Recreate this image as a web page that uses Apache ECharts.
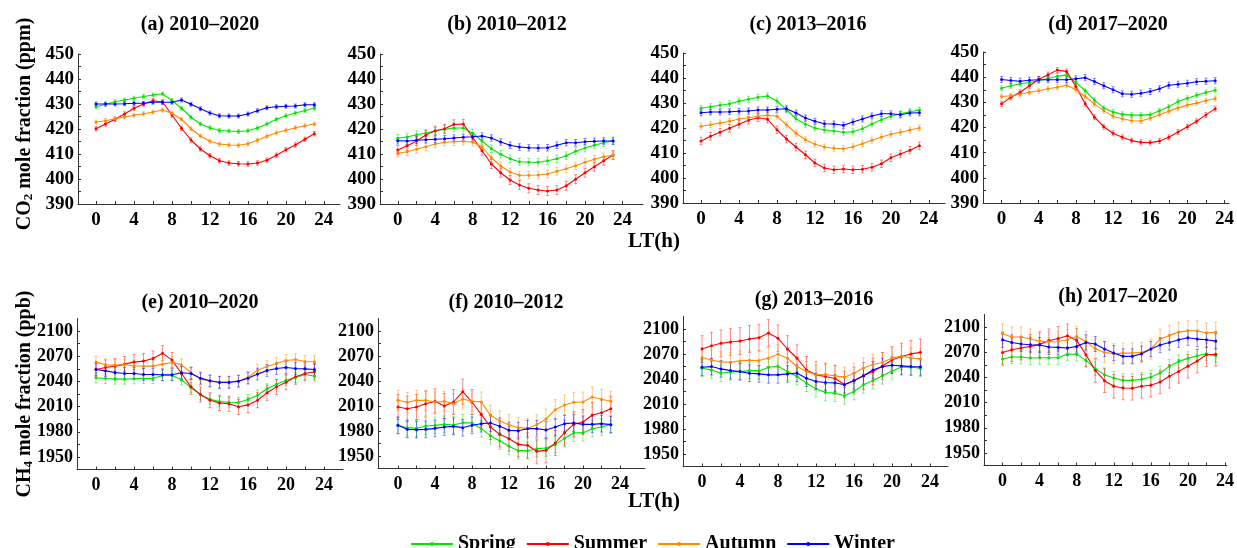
<!DOCTYPE html>
<html><head><meta charset="utf-8">
<script src="https://cdn.jsdelivr.net/npm/echarts@6/dist/echarts.min.js"></script>
<style>html,body{margin:0;padding:0;background:#fff}#c{width:1237px;height:548px}</style>
</head><body><div id="c"></div>
<script>
const hours = [0,1,2,3,4,5,6,7,8,9,10,11,12,13,14,15,16,17,18,19,20,21,22,23];
const seasons = ['Spring','Summer','Autumn','Winter'];
const seasonColors = ['#00e400','#ff0000','#ff8a00','#0000ff'];
const panelTitles = ['(a) 2010–2020','(b) 2010–2012','(c) 2013–2016','(d) 2017–2020',
                     '(e) 2010–2020','(f) 2010–2012','(g) 2013–2016','(h) 2017–2020'];
const co2TickLabels = [390,400,410,420,430,440,450];
const co2Ticks = [390,395,400,405,410,415,420,425,430,435,440,445,450];
const ch4TickLabels = [1950,1980,2010,2040,2070,2100];
const ch4Ticks = [1950,1965,1980,1995,2010,2025,2040,2055,2070,2085,2100];
const hourTickLabels = [0,4,8,12,16,20,24];
const hourTicks = [0,2,4,6,8,10,12,14,16,18,20,22,24];

// CO2 (ppm)
const a_spring = [428.9,429.9,430.9,431.6,432.3,433.0,433.6,434.1,431.4,428.3,424.7,422.0,420.5,419.4,419.2,419.0,419.3,420.4,422.0,423.9,425.3,426.4,427.4,428.3];
const a_summer = [420.1,422.0,423.9,426.0,428.3,430.0,431.3,430.8,425.6,420.3,415.6,412.0,409.3,407.3,406.4,406.1,406.0,406.4,407.5,409.5,411.7,413.6,415.9,418.1];
const a_autumn = [422.8,423.3,424.1,424.8,425.5,426.1,426.8,427.6,426.3,423.9,420.1,417.2,415.1,414.0,413.6,413.5,414.1,415.5,417.1,418.5,419.5,420.5,421.3,422.0];
const a_winter = [430.0,430.0,430.0,430.1,430.3,430.3,430.7,430.7,430.7,431.6,429.9,428.1,426.4,425.3,425.2,425.2,426.0,427.3,428.5,428.9,429.1,429.2,429.7,429.7];

const b_spring = [416.3,416.8,417.7,418.4,419.2,419.9,420.4,420.4,418.3,415.2,412.1,409.9,408.1,406.9,406.7,406.7,407.3,408.1,409.3,411.1,412.4,413.5,414.5,415.3];
const b_summer = [411.6,413.3,415.2,417.6,419.3,420.1,421.9,422.0,416.7,411.3,406.0,402.5,399.6,397.6,396.3,395.6,395.2,395.6,397.3,399.9,402.5,404.9,407.3,409.6];
const b_autumn = [410.3,410.9,411.9,412.9,414.0,414.7,414.9,415.1,414.7,412.9,408.5,405.2,402.8,401.5,401.5,401.6,402.0,403.1,404.1,405.3,406.7,407.9,408.9,409.5];
const b_winter = [415.3,415.2,415.5,415.7,415.9,416.1,416.4,416.7,416.9,417.2,416.4,414.8,413.5,412.8,412.5,412.4,412.5,413.5,414.5,414.5,414.9,415.1,415.2,415.2];

const c_spring = [427.9,428.5,429.1,429.7,430.7,431.5,432.3,432.8,430.8,427.3,423.7,421.5,420.0,419.2,418.8,418.3,418.5,419.7,421.6,423.3,424.7,425.7,426.5,427.2];
const c_summer = [414.8,416.7,418.3,419.9,421.5,423.1,424.1,423.5,419.3,415.6,412.4,409.3,406.0,404.0,403.3,403.6,403.3,403.5,404.3,405.7,408.1,409.6,411.1,412.9];
const c_autumn = [420.7,421.3,422.0,422.7,423.6,424.1,424.7,425.1,424.7,421.3,417.9,415.3,413.5,412.4,411.9,411.7,412.5,413.7,415.1,416.4,417.5,418.3,419.2,420.0];
const c_winter = [426.1,426.4,426.4,426.5,426.7,426.8,427.2,427.2,427.5,427.7,426.0,424.0,422.7,421.7,421.6,421.1,422.4,423.6,424.8,425.7,425.7,425.3,426.0,426.1];

const d_spring = [435.6,436.6,437.4,437.9,438.6,439.5,440.4,440.8,437.9,434.6,430.9,427.7,426.2,425.3,424.9,424.9,425.1,426.7,428.2,430.3,431.6,432.8,433.9,434.8];
const d_summer = [429.4,432.0,434.0,436.6,439.2,441.0,442.8,442.3,436.3,429.4,424.1,420.3,417.7,416.1,414.8,414.1,414.0,414.6,416.1,418.2,420.3,422.5,425.0,427.5];
const d_autumn = [432.3,432.6,433.2,434.0,434.6,435.4,436.0,436.8,435.0,432.3,429.3,426.7,424.5,423.5,422.7,422.6,423.7,425.1,426.5,427.8,428.9,429.7,430.6,431.5];
const d_winter = [439.1,438.7,438.4,438.8,439.0,439.0,439.0,439.0,439.4,439.8,438.3,436.6,435.0,433.4,433.2,433.6,434.3,435.4,436.8,437.2,437.6,438.2,438.4,438.6];

// CH4 (ppb)
const e_spring = [2044.3,2043.5,2042.7,2042.7,2043.1,2043.5,2043.5,2047.1,2047.1,2041.9,2032.7,2024.0,2018.8,2016.0,2015.2,2014.8,2018.4,2023.6,2031.2,2036.7,2041.5,2044.7,2048.3,2046.3];
const e_summer = [2054.2,2056.6,2058.2,2060.6,2063.0,2064.2,2067.4,2073.7,2065.4,2049.5,2033.5,2024.4,2017.6,2014.4,2013.3,2009.7,2012.0,2017.6,2026.4,2033.5,2039.1,2045.5,2049.5,2051.5];
const e_autumn = [2063.0,2059.8,2059.4,2059.8,2058.6,2058.2,2058.2,2060.6,2062.6,2059.8,2050.3,2042.7,2040.3,2039.5,2039.5,2040.3,2044.7,2053.4,2057.8,2061.4,2065.0,2066.2,2063.8,2063.4];
const e_winter = [2054.2,2052.6,2050.7,2049.5,2049.5,2048.3,2048.3,2047.9,2047.9,2050.3,2049.5,2043.9,2040.7,2038.7,2038.7,2040.3,2043.9,2048.7,2053.0,2055.4,2056.6,2055.4,2055.0,2054.2];

const f_spring = [1986.8,1984.0,1983.2,1986.0,1986.8,1988.0,1987.2,1990.0,1989.6,1982.8,1974.4,1968.0,1961.6,1956.4,1956.4,1958.8,1959.6,1963.6,1971.2,1977.6,1978.0,1982.8,1984.8,1988.0];
const f_summer = [2008.8,2006.8,2008.8,2012.8,2015.6,2010.0,2014.8,2027.2,2014.8,2000.0,1984.8,1976.0,1970.8,1964.0,1962.8,1955.6,1956.8,1965.6,1978.0,1988.0,1990.8,1999.2,2002.0,2006.8];
const f_autumn = [2016.8,2014.4,2016.8,2016.8,2014.8,2015.6,2012.8,2018.4,2015.6,2014.8,1998.8,1992.0,1987.6,1984.0,1983.2,1987.6,1994.4,2005.6,2011.2,2014.4,2014.8,2020.8,2018.0,2015.6];
const f_winter = [1986.8,1982.0,1981.6,1982.0,1983.2,1984.8,1985.6,1984.0,1986.8,1988.8,1989.6,1985.6,1980.8,1980.4,1982.8,1982.8,1981.2,1984.8,1988.8,1989.6,1988.0,1988.0,1988.8,1987.6];

const g_spring = [2052.9,2050.9,2046.9,2048.5,2048.9,2050.1,2049.7,2054.1,2055.3,2048.9,2043.0,2035.0,2028.2,2023.8,2023.0,2019.8,2025.0,2033.0,2038.2,2043.8,2049.7,2054.5,2054.1,2052.9];
const g_summer = [2076.0,2080.0,2082.8,2084.4,2085.6,2088.0,2089.6,2095.2,2088.8,2076.0,2064.9,2050.9,2045.0,2043.0,2040.6,2033.4,2038.2,2043.8,2048.9,2055.7,2062.9,2066.9,2070.1,2072.0];
const g_autumn = [2065.7,2062.9,2060.5,2060.1,2061.7,2062.5,2062.1,2065.3,2069.7,2064.9,2054.9,2048.9,2045.0,2045.4,2043.8,2042.2,2046.9,2053.3,2057.3,2059.7,2065.3,2067.3,2065.3,2064.1];
const g_winter = [2054.1,2054.9,2052.1,2050.1,2048.9,2046.9,2046.1,2045.0,2045.0,2046.1,2046.9,2041.0,2037.0,2035.8,2035.4,2033.0,2037.8,2043.8,2050.9,2054.9,2056.5,2055.7,2054.9,2054.5];

const h_spring = [2061.9,2064.3,2064.3,2063.1,2063.5,2063.5,2063.5,2067.9,2067.5,2060.3,2050.4,2043.3,2039.3,2036.5,2036.5,2037.7,2040.5,2045.2,2053.2,2059.1,2062.7,2065.9,2068.3,2065.9];
const h_summer = [2069.8,2073.0,2075.0,2077.0,2079.4,2083.7,2086.5,2089.7,2084.1,2067.1,2048.4,2036.1,2029.4,2027.4,2027.0,2029.4,2030.6,2034.5,2041.3,2047.2,2053.2,2059.5,2067.1,2067.5];
const h_autumn = [2092.0,2088.1,2088.1,2085.7,2083.3,2082.5,2082.9,2084.9,2088.9,2082.9,2074.2,2069.8,2068.3,2069.0,2069.0,2069.8,2073.8,2085.7,2090.1,2094.0,2095.6,2095.6,2092.9,2094.0];
const h_winter = [2084.9,2081.7,2079.8,2079.0,2078.6,2076.2,2075.8,2075.0,2077.0,2081.7,2079.8,2073.8,2069.0,2065.1,2065.1,2068.3,2073.8,2078.6,2081.7,2084.9,2087.3,2085.7,2084.9,2083.3];

// typical error-bar half-widths per panel [Spring, Summer, Autumn, Winter]
const a_err = [0.8,0.9,0.8,0.8];
const b_err = [1.5,1.8,1.5,1.3];
const c_err = [1.2,1.5,1.2,1.2];
const d_err = [1.0,1.0,1.0,1.2];
const e_err = [6,9,7,7];
const f_err = [10,15,12,10];
const g_err = [10,16,12,10];
const h_err = [8,14,12,9];

const panelSeries = [
  [a_spring,a_summer,a_autumn,a_winter],[b_spring,b_summer,b_autumn,b_winter],
  [c_spring,c_summer,c_autumn,c_winter],[d_spring,d_summer,d_autumn,d_winter],
  [e_spring,e_summer,e_autumn,e_winter],[f_spring,f_summer,f_autumn,f_winter],
  [g_spring,g_summer,g_autumn,g_winter],[h_spring,h_summer,h_autumn,h_winter]];
const panelErr = [a_err,b_err,c_err,d_err,e_err,f_err,g_err,h_err];

// layout (pixels / axis extents)
const layout = [
  {left:78,  top:54,    width:262, height:150, xMin:-1.9, xMax:25.7},
  {left:380, top:54,    width:263, height:150, xMin:-1.9, xMax:26.2},
  {left:683, top:53,    width:262, height:150, xMin:-1.9, xMax:25.7},
  {left:983, top:52,    width:252, height:151, xMin:-2,   xMax:24.5},
  {left:77,  top:318.5, width:266, height:151, xMin:-2,   xMax:26},
  {left:378, top:318.5, width:267, height:150, xMin:-2.16,xMax:26.7},
  {left:683, top:316.5, width:265, height:150, xMin:-2,   xMax:25.9},
  {left:984, top:314.5, width:250, height:151, xMin:-2,   xMax:24.2}
];
const titlePos = [[200,25],[507,25],[808,25],[1108,25],[200,303],[506,303],[814,300],[1118,297]];

const FONT = "'Liberation Serif','Times New Roman',serif";
const grids = [], xAxes = [], yAxes = [], series = [];
const plain = v => String(v);

layout.forEach((L, p) => {
  const isCO2 = p < 4;
  grids.push({left:L.left, top:L.top, width:L.width, height:L.height, containLabel:false});
  xAxes.push({
    type:'value', gridIndex:p, min:L.xMin, max:L.xMax,
    axisLine:{show:true, onZero:false, lineStyle:{color:'#333', width:1}},
    axisTick:{show:true, inside:true, length:3, customValues:hourTicks, lineStyle:{color:'#333'}},
    axisLabel:{show:true, customValues:hourTickLabels, formatter:plain, color:'#000', fontFamily:FONT, fontWeight:'bold',
               fontSize: isCO2 ? 19 : 18, margin:7},
    splitLine:{show:false}
  });
  yAxes.push({
    type:'value', gridIndex:p,
    min: isCO2 ? 390 : 1935, max: isCO2 ? 450 : 2115,
    axisLine:{show:true, onZero:false, lineStyle:{color:'#333', width:1}},
    axisTick:{show:true, inside:true, length:3, customValues: isCO2 ? co2Ticks : ch4Ticks, lineStyle:{color:'#333'}},
    axisLabel:{show:true, customValues: isCO2 ? co2TickLabels : ch4TickLabels, formatter:plain, color:'#000', fontFamily:FONT,
               fontWeight:'bold', fontSize: isCO2 ? 19 : 18, margin:4},
    splitLine:{show:false}
  });
  panelSeries[p].forEach((arr, s) => {
    const col = seasonColors[s];
    const err = panelErr[p][s];
    series.push({
      type:'custom', name: seasons[s] + ' error', xAxisIndex:p, yAxisIndex:p, silent:true, z:1,
      data: hours.map((h,i) => [h, arr[i], err]),
      renderItem: (params, api) => {
        const x = api.value(0), y = api.value(1), e = api.value(2);
        const t = api.coord([x, y + e]), b = api.coord([x, y - e]);
        const st = {stroke: col, lineWidth: 1, opacity: 0.45};
        return {type:'group', children:[
          {type:'line', shape:{x1:t[0], y1:t[1], x2:b[0], y2:b[1]}, style:st},
          {type:'line', shape:{x1:t[0]-1.5, y1:t[1], x2:t[0]+1.5, y2:t[1]}, style:st},
          {type:'line', shape:{x1:b[0]-1.5, y1:b[1], x2:b[0]+1.5, y2:b[1]}, style:st}
        ]};
      }
    });
  });
});
// line series after error bars so they draw on top
layout.forEach((L, p) => {
  panelSeries[p].forEach((arr, s) => {
    series.push({
      type:'line', name: seasons[s], xAxisIndex:p, yAxisIndex:p, z:3,
      data: hours.map((h,i) => [h, arr[i]]),
      symbol:'circle', symbolSize:3, showSymbol:true,
      lineStyle:{color:seasonColors[s], width:1.1},
      itemStyle:{color:seasonColors[s]}
    });
  });
});

const graphics = [];
panelTitles.forEach((t, i) => {
  graphics.push({type:'text', x:titlePos[i][0], y:titlePos[i][1],
    style:{text:t, font:`bold 20px ${FONT}`, fill:'#000', align:'center', verticalAlign:'middle'}});
});
const richName = {
  n:{fontFamily:FONT, fontWeight:'bold', fontSize:20, fill:'#000', color:'#000', lineHeight:24, verticalAlign:'bottom'},
  s:{fontFamily:FONT, fontWeight:'bold', fontSize:13, fill:'#000', color:'#000', lineHeight:24, verticalAlign:'bottom', padding:[0,0,0,0]}
};
graphics.push({type:'text', x:23, y:124, rotation:Math.PI/2,
  style:{text:'{n|CO}{s|2}{n| mole fraction (ppm)}', rich:richName, align:'center', verticalAlign:'middle'}});
graphics.push({type:'text', x:23, y:394, rotation:Math.PI/2,
  style:{text:'{n|CH}{s|4}{n| mole fraction (ppb)}', rich:richName, align:'center', verticalAlign:'middle'}});
graphics.push({type:'text', x:654, y:242,
  style:{text:'LT(h)', font:`bold 21px ${FONT}`, fill:'#000', align:'center', verticalAlign:'middle'}});
graphics.push({type:'text', x:654, y:502,
  style:{text:'LT(h)', font:`bold 21px ${FONT}`, fill:'#000', align:'center', verticalAlign:'middle'}});

const chart = echarts.init(document.getElementById('c'), null, {renderer:'canvas'});
chart.setOption({
  animation:false,
  backgroundColor:'#fff',
  grid:grids, xAxis:xAxes, yAxis:yAxes, series:series,
  legend:{data:seasons, left:405, top:529, itemWidth:42, itemHeight:5, itemGap:10,
    textStyle:{fontFamily:FONT, fontWeight:'bold', fontSize:20, color:'#000'}},
  graphic:graphics
});
</script></body></html>
